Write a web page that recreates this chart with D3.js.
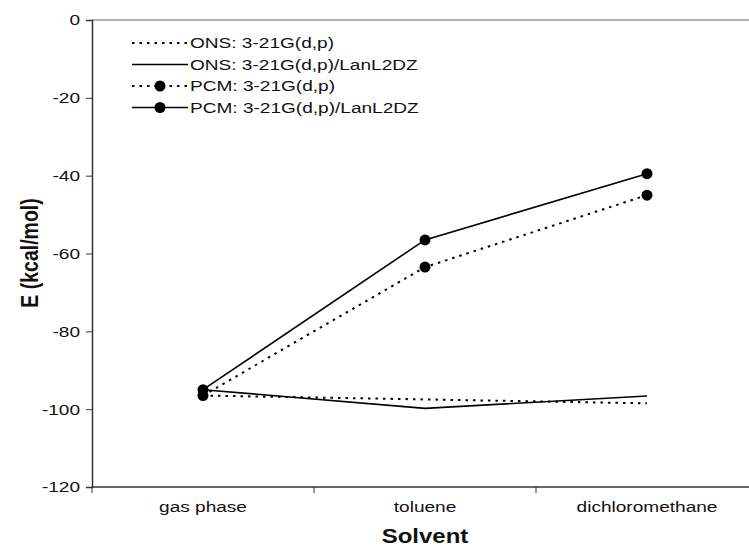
<!DOCTYPE html>
<html>
<head>
<meta charset="utf-8">
<script src="https://cdn.jsdelivr.net/npm/d3@7"></script>
<style>
	body { margin: 0; background: #fff; }
	svg { font-family: "Liberation Sans", Arial, sans-serif; }
	.tick text { font-size: 15.5px; fill: #111; }
	.label { font-size: 19.5px; font-weight: bold; fill: #111; }
</style>
</head>
<body>
<svg width="749" height="550"></svg>
<script>
const solvents = ["gas phase", "toluene", "dichloromethane"];
const yTicks = [0, -20, -40, -60, -80, -100, -120];

const onsBasic = [-96.5, -97.5, -98.5];
const onsLanl = [-95, -99.8, -96.6];
const pcmBasic = [-96.5, -63.5, -45];
const pcmLanl = [-95, -56.5, -39.5];

const seriesNames = [
	"ONS: 3-21G(d,p)",
	"ONS: 3-21G(d,p)/LanL2DZ",
	"PCM: 3-21G(d,p)",
	"PCM: 3-21G(d,p)/LanL2DZ"
];

// the source picture is stretched sideways, text too
const stretch = 1.23;

document.addEventListener("DOMContentLoaded", function() {
	const series = [
		{ name: seriesNames[0], values: onsBasic, dashed: true, dots: false },
		{ name: seriesNames[1], values: onsLanl, dashed: false, dots: false },
		{ name: seriesNames[2], values: pcmBasic, dashed: true, dots: true },
		{ name: seriesNames[3], values: pcmLanl, dashed: false, dots: true }
	];
	renderChart(series);
});

function renderChart(series) {
	const svg = d3.select("svg");
	const left = 92, top = 20, bottom = 487;

	const xScale = d3.scaleBand()
					 .domain(solvents)
					 .range([left, left + 222 * 3]);
	const yScale = d3.scaleLinear()
					 .domain([-120, 0])
					 .range([bottom, top]);

	// gray top border of plot area
	svg.append("line")
	   .attr("x1", left).attr("x2", 749)
	   .attr("y1", top).attr("y2", top)
	   .attr("stroke", "#999")
	   .attr("stroke-width", 1.5);

	const yg = svg.append("g")
				  .attr("transform", `translate(${left}, 0)`)
				  .call(d3.axisLeft(yScale).tickValues(yTicks).tickSize(6).tickFormat(d => String(d)));
	yg.select(".domain").attr("stroke", "#333").attr("stroke-width", 1.5);
	yg.selectAll(".tick line").attr("stroke", "#333");
	yg.selectAll(".tick text")
	  .attr("x", -12 / stretch)
	  .attr("transform", `scale(${stretch},1)`);

	const xg = svg.append("g")
				  .attr("transform", `translate(0, ${bottom})`)
				  .call(d3.axisBottom(xScale).tickSize(0));
	xg.select(".domain").remove();
	xg.selectAll(".tick text")
	  .attr("y", 25)
	  .attr("dy", null)
	  .attr("transform", `scale(${stretch},1)`);
	xg.append("line")
	  .attr("x1", left).attr("x2", 749)
	  .attr("stroke", "#333").attr("stroke-width", 1.5);
	// ticks between categories
	xg.selectAll("line.sep")
	  .data(solvents)
	  .enter()
	  .append("line")
	  .attr("class", "sep")
	  .attr("x1", d => xScale(d)).attr("x2", d => xScale(d))
	  .attr("y1", 0).attr("y2", 6)
	  .attr("stroke", "#333");

	const line = d3.line()
				   .x((d, i) => xScale(solvents[i]) + xScale.bandwidth() / 2)
				   .y(d => yScale(d));

	series.forEach(s => {
		svg.append("path")
		   .attr("d", line(s.values))
		   .attr("fill", "none")
		   .attr("stroke", "#000")
		   .attr("stroke-width", s.dashed ? 2 : 1.6)
		   .attr("stroke-dasharray", s.dashed ? "2.5,5" : null);
		if (s.dots) {
			svg.selectAll(null)
			   .data(s.values)
			   .enter()
			   .append("ellipse")
			   .attr("cx", (d, i) => xScale(solvents[i]) + xScale.bandwidth() / 2)
			   .attr("cy", d => yScale(d))
			   .attr("rx", 5.5).attr("ry", 5.5)
			   .attr("fill", "#000");
		}
	});

	// legend
	const legend = svg.append("g").attr("transform", "translate(132, 43)");
	series.forEach((s, i) => {
		const row = legend.append("g").attr("transform", `translate(0, ${i * 21.5})`);
		row.append("line")
		   .attr("x1", 0).attr("x2", 56)
		   .attr("stroke", "#000")
		   .attr("stroke-width", s.dashed ? 2 : 1.6)
		   .attr("stroke-dasharray", s.dashed ? "2.5,5" : null);
		if (s.dots) {
			row.append("ellipse").attr("cx", 28).attr("rx", 5.5).attr("ry", 5.5).attr("fill", "#000");
		}
		row.append("text")
		   .attr("transform", `translate(58, 0) scale(${stretch},1)`)
		   .attr("dy", "0.35em")
		   .style("font-size", "15.5px")
		   .attr("fill", "#111")
		   .text(s.name);
	});

	svg.append("text")
	   .attr("class", "label")
	   .attr("text-anchor", "middle")
	   .attr("transform", `translate(425, 543) scale(${stretch},1)`)
	   .text("Solvent");

	svg.append("text")
	   .attr("class", "label")
	   .attr("text-anchor", "middle")
	   .attr("transform", `translate(38, 253) scale(${stretch},1) rotate(-90)`)
	   .text("E (kcal/mol)");
}
</script>
</body>
</html>
